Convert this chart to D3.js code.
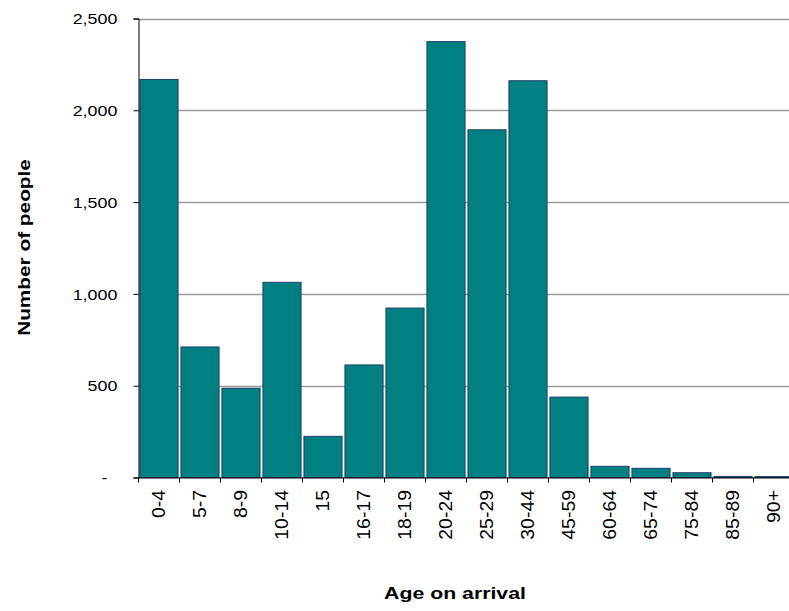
<!DOCTYPE html>
<html>
<head>
<meta charset="utf-8">
<script src="https://cdn.jsdelivr.net/npm/d3@7"></script>
<style>
  html, body { margin: 0; padding: 0; background: #fff; }
  svg { display: block; }
  text { font-family: "Liberation Sans", Arial, sans-serif; fill: #000; }
</style>
</head>
<body>
<script>
const categories = ["0-4","5-7","8-9","10-14","15","16-17","18-19","20-24","25-29","30-44","45-59","60-64","65-74","75-84","85-89","90+"];
const values = [2168, 711, 486, 1063, 224, 613, 923, 2374, 1894, 2161, 438, 61, 50, 26, 6, 5];
const yTicks = [0, 500, 1000, 1500, 2000, 2500];
const yTitle = "Number of people";
const xTitle = "Age on arrival";

const W = 789, H = 611;
const plotLeft = 138.5, plotTop = 18.5, plotBottom = 477.5, plotRight = 794.5;
const FONT = "'Liberation Sans', Arial, sans-serif";

const svg = d3.select("body").append("svg")
  .attr("width", W).attr("height", H)
  .attr("viewBox", `0 0 ${W} ${H}`);

const x = d3.scaleBand().domain(categories).range([plotLeft, plotRight])
  .paddingInner(0.07).paddingOuter(0.035);
const xAxisScale = d3.scaleBand().domain(categories).range([plotLeft, plotRight]);
const y = d3.scaleLinear().domain([0, 2500]).range([plotBottom, plotTop]);

// gridlines
svg.append("g").selectAll("line")
  .data(yTicks.filter(d => d > 0))
  .join("line")
  .attr("x1", plotLeft).attr("x2", W)
  .attr("y1", d => Math.round(y(d)) + 0.5).attr("y2", d => Math.round(y(d)) + 0.5)
  .attr("stroke", "#9a9a9a").attr("stroke-width", 1.3);

// bars
svg.append("g").selectAll("rect")
  .data(values)
  .join("rect")
  .attr("x", (d, i) => x(categories[i]))
  .attr("y", d => y(d))
  .attr("width", x.bandwidth())
  .attr("height", d => plotBottom - y(d))
  .attr("fill", "#008080")
  .attr("stroke", "#1f3f6a")
  .attr("stroke-width", 1);

// y axis
const yAxis = d3.axisLeft(y).tickValues(yTicks).tickSize(5)
  .tickFormat(d => d === 0 ? "-" : d3.format(",")(d));
const gy = svg.append("g").attr("transform", `translate(${plotLeft},0)`).call(yAxis);
gy.select(".domain").attr("stroke", "#000");
gy.selectAll(".tick line").attr("stroke", "#000");
gy.selectAll(".tick text")
  .attr("font-size", 15)
  .attr("font-family", FONT)
  .attr("fill", "#000")
  .attr("x", 0)
  .attr("dy", "0.34em")
  .attr("text-anchor", "end")
  .attr("transform", d => `translate(${d === 0 ? -31 : -21.2},0) scale(1.19,1)`);

// x axis
const xAxis = d3.axisBottom(xAxisScale).tickSize(5).tickSizeOuter(0).tickPadding(0);
const gx = svg.append("g").attr("transform", `translate(0,${plotBottom})`).call(xAxis);
gx.select(".domain").attr("stroke", "#000");
gx.selectAll(".tick line")
  .attr("stroke", "#000")
  .attr("transform", `translate(${-xAxisScale.bandwidth()/2},0)`);
gx.selectAll(".tick text")
  .attr("font-size", 18)
  .attr("font-family", FONT)
  .attr("fill", "#000")
  .attr("text-anchor", "end")
  .attr("dy", "0.35em")
  .attr("x", 0).attr("y", 0)
  .attr("transform", "translate(0,12.5) rotate(-90) scale(1.08,1)");

// titles
svg.append("text")
  .attr("transform", `translate(29.5,247.5) rotate(-90) scale(1.3,1)`)
  .attr("text-anchor", "middle")
  .attr("font-size", 16).attr("font-weight", "bold")
  .text(yTitle);

svg.append("text")
  .attr("transform", `translate(455,599) scale(1.33,1)`)
  .attr("text-anchor", "middle")
  .attr("font-size", 16).attr("font-weight", "bold")
  .text(xTitle);
</script>
</body>
</html>
